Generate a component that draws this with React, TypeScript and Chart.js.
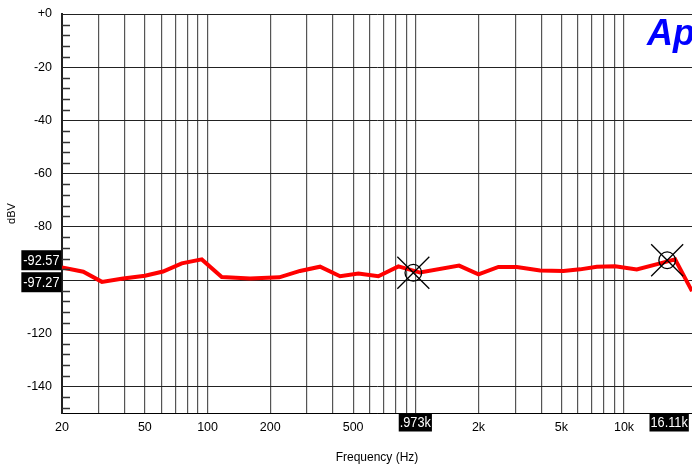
import React, { useEffect, useRef } from 'react';
import { Chart, registerables } from 'chart.js';

Chart.register(...registerables);

// Measured response (Hz, dBV)
const freqs = [20, 25.3, 31.1, 39.3, 50.1, 61.1, 75.2, 93.8, 117, 160, 221, 278, 347, 433, 530, 661, 825, 1048, 1614, 2000, 2493, 3054, 3954, 5116, 6152, 7400, 9060, 11512, 14900, 17590, 21200];
const levels = [-95.3, -96.9, -100.7, -99.4, -98.4, -96.8, -93.75, -92.25, -98.9, -99.4, -99.0, -96.6, -95.0, -98.6, -97.6, -98.6, -94.9, -97.2, -94.6, -97.9, -95.1, -95.1, -96.4, -96.6, -96.0, -95.0, -94.8, -96.0, -93.75, -92.25, -104.2];

// Cursors
const cursorFreqs = [973, 16110];
const cursorLevels = [-97.27, -92.57];

// Axes
const xGrid = [20, 30, 40, 50, 60, 70, 80, 90, 100, 200, 300, 400, 500, 600, 700, 800, 900, 1000, 2000, 3000, 4000, 5000, 6000, 7000, 8000, 9000, 10000];
const xLabelValues = [20, 50, 100, 200, 500, 2000, 5000, 10000];
const xLabelTexts = ['20', '50', '100', '200', '500', '2k', '5k', '10k'];
const yMajor = [-140, -120, -100, -80, -60, -40, -20, 0];
const yMinorStep = 4;
const xMin = 20;
const xMax = 21200;
const yMin = -150;
const yMax = 0;

const FONT = '"Liberation Sans", Arial, sans-serif';

function fmtFreq(f: number): string {
  if (f >= 10000) return (f / 1000).toFixed(2) + 'k';
  return (f / 1000).toFixed(3).replace(/^0/, '') + 'k';
}

function drawBox(ctx: CanvasRenderingContext2D, text: string, x: number, y: number, align: 'right' | 'center', h: number) {
  const sx = 0.85;
  ctx.save();
  ctx.font = `15px ${FONT}`;
  const tw = ctx.measureText(text).width * sx;
  const w = tw + (align === 'right' ? 4 : 2);
  const left = align === 'right' ? x - w : x - w / 2;
  ctx.fillStyle = '#000';
  ctx.fillRect(left, y, w, h);
  ctx.fillStyle = '#fff';
  ctx.textBaseline = 'middle';
  ctx.textAlign = 'left';
  ctx.translate(left + (w - tw) / 2, y + h / 2 + 0.5);
  ctx.scale(sx, 1);
  ctx.fillText(text, 0, 0);
  ctx.restore();
}

const overlayPlugin = {
  id: 'apOverlay',
  afterDraw(chart: any) {
    const ctx: CanvasRenderingContext2D = chart.ctx;
    const xs = chart.scales.x;
    const ys = chart.scales.y;
    const area = chart.chartArea;

    // minor ticks on left axis
    ctx.save();
    ctx.strokeStyle = '#333';
    ctx.lineWidth = 1.5;
    for (let v = yMin + 2; v < yMax; v += yMinorStep) {
      if (yMajor.includes(v)) continue;
      const py = Math.round(ys.getPixelForValue(v)) + 0.5;
      ctx.beginPath();
      ctx.moveTo(area.left, py);
      ctx.lineTo(area.left + 8, py);
      ctx.stroke();
    }
    ctx.restore();

    // cursor markers
    ctx.save();
    ctx.strokeStyle = '#000';
    ctx.lineWidth = 1.3;
    cursorFreqs.forEach((f, i) => {
      const cx = xs.getPixelForValue(f);
      const cy = ys.getPixelForValue(cursorLevels[i]);
      ctx.beginPath();
      ctx.arc(cx, cy, 8.3, 0, Math.PI * 2);
      ctx.stroke();
      ctx.beginPath();
      ctx.moveTo(cx - 16, cy - 16);
      ctx.lineTo(cx + 16, cy + 16);
      ctx.moveTo(cx + 16, cy - 16);
      ctx.lineTo(cx - 16, cy + 16);
      ctx.stroke();
    });
    ctx.restore();

    // y cursor readouts (stacked so they don't overlap)
    const h = 20;
    const order = cursorLevels.map((v, i) => ({ v, i, y: ys.getPixelForValue(v) })).sort((a, b) => a.y - b.y);
    let lastBottom = -Infinity;
    order.forEach((o) => {
      let top = o.y - h / 2;
      if (top < lastBottom + 2) top = lastBottom + 2;
      drawBox(ctx, o.v.toFixed(2), area.left - 0.5, top, 'right', h);
      lastBottom = top + h;
    });

    // x cursor readouts
    cursorFreqs.forEach((f) => {
      const cx = Math.min(xs.getPixelForValue(f) + 2, area.right - 20);
      drawBox(ctx, fmtFreq(f), cx, area.bottom + 0.5, 'center', 18);
    });

    // Ap logo
    ctx.save();
    ctx.fillStyle = '#0000ff';
    ctx.font = `italic bold 36px ${FONT}`;
    ctx.textAlign = 'left';
    ctx.textBaseline = 'alphabetic';
    ctx.fillText('Ap', 647, 45);
    ctx.restore();
  },
};

export default function App() {
  const ref = useRef<HTMLCanvasElement | null>(null);
  useEffect(() => {
    if (!ref.current) return;
    const chart = new Chart(ref.current, {
      type: 'line',
      data: {
        datasets: [
          {
            data: freqs.map((f, i) => ({ x: f, y: levels[i] })),
            borderColor: '#ff0000',
            borderWidth: 4,
            pointRadius: 0,
            tension: 0,
            fill: false,
          },
        ],
      },
      options: {
        animation: false,
        responsive: false,
        devicePixelRatio: 1,
        layout: { padding: { top: 14, right: 0, left: 0, bottom: 0 } },
        plugins: { legend: { display: false }, tooltip: { enabled: false } },
        scales: {
          x: {
            type: 'logarithmic',
            min: xMin,
            max: xMax,
            afterBuildTicks: (scale: any) => {
              scale.ticks = xGrid.map((v) => ({ value: v }));
            },
            afterFit: (scale: any) => {
              scale.height = 54;
              scale.paddingLeft = 0;
              scale.paddingRight = 0;
            },
            grid: { color: '#555', lineWidth: 1.2, drawTicks: false },
            border: { display: true, color: '#000', width: 1 },
            ticks: {
              autoSkip: false,
              maxRotation: 0,
              padding: 7,
              color: '#000',
              font: { family: FONT, size: 12.5 },
              callback: (value: any) => {
                const idx = xLabelValues.indexOf(Number(value));
                return idx >= 0 ? xLabelTexts[idx] : '';
              },
            },
            title: {
              display: true,
              text: 'Frequency (Hz)',
              color: '#000',
              font: { family: FONT, size: 12 },
              padding: { top: 0, bottom: 2 },
            },
          },
          y: {
            type: 'linear',
            min: yMin,
            max: yMax,
            afterBuildTicks: (scale: any) => {
              scale.ticks = yMajor.map((v) => ({ value: v }));
            },
            afterFit: (scale: any) => {
              scale.width = 62;
              scale.paddingTop = 0;
              scale.paddingBottom = 0;
            },
            grid: { color: '#222', lineWidth: 1, drawTicks: false },
            border: { display: true, color: '#222', width: 2 },
            ticks: {
              padding: 10,
              color: '#000',
              font: { family: FONT, size: 12.5 },
              callback: (value: any) => (Number(value) === 0 ? '+0' : String(value)),
            },
            title: {
              display: true,
              text: 'dBV',
              color: '#000',
              font: { family: FONT, size: 11 },
              padding: { top: 5, bottom: 0 },
            },
          },
        },
      },
      plugins: [overlayPlugin],
    });
    return () => chart.destroy();
  }, []);
  return (
    <div style={{ position: 'fixed', left: 0, top: 0, width: 692, height: 467, background: '#fff' }}>
      <canvas ref={ref} width={692} height={467} style={{ display: 'block' }} />
    </div>
  );
}
